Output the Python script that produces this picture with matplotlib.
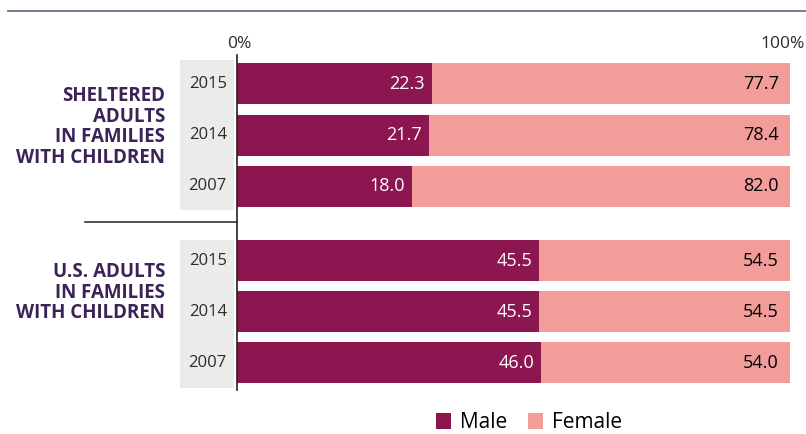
import matplotlib.pyplot as plt
from matplotlib.lines import Line2D
from matplotlib.patches import Rectangle
import matplotlib.transforms as mtransforms

# Data
groups = ["SHELTERED\nADULTS\nIN FAMILIES\nWITH CHILDREN",
          "U.S. ADULTS\nIN FAMILIES\nWITH CHILDREN"]
years = ["2015", "2014", "2007", "2015", "2014", "2007"]
male = [22.3, 21.7, 18.0, 45.5, 45.5, 46.0]
female = [77.7, 78.4, 82.0, 54.5, 54.5, 54.0]

MALE_C = "#8c1650"
FEMALE_C = "#f29d99"
LABEL_C = "#3b2257"
TEXT_C = "#2b2b2b"

plt.rcParams["font.family"] = ["Open Sans", "DejaVu Sans"]

# bar rows: two groups of three with a wider gap between them
ypos = [0, 1, 2, 3.45, 4.45, 5.45]
# the original axis starts left of zero (male bars drawn from the axis edge)
x_start = -20

fig = plt.figure(figsize=(8.06, 4.34), dpi=100)
ax = fig.add_axes([237 / 806, 1 - 390 / 434, 553 / 806, 335 / 434])

# grey panels behind the year labels
trans = mtransforms.blended_transform_factory(ax.transAxes, ax.transData)
for y0, y1 in [(-0.47, 2.46), (3.05, 5.94)]:
    ax.add_patch(Rectangle((-0.103, y0), 0.097, y1 - y0, transform=trans,
                           facecolor="#ebebeb", edgecolor="none",
                           clip_on=False, zorder=0))

male_w = [m - x_start for m in male]
ax.barh(ypos, male_w, left=x_start, height=0.8, color=MALE_C,
        label="Male", zorder=2)
ax.barh(ypos, female, left=male, height=0.8, color=FEMALE_C,
        label="Female", zorder=2)

# value labels
for y, m, f in zip(ypos, male, female):
    ax.annotate(f"{m:.1f}", (m, y), xytext=(-5, 0), textcoords="offset points",
                ha="right", va="center", color="white", fontsize=13)
    ax.annotate(f"{f:.1f}", (100, y), xytext=(-8, 0), textcoords="offset points",
                ha="right", va="center", color="black", fontsize=13)

# year labels
for y, yr in zip(ypos, years):
    ax.text(-0.053, y, yr, transform=trans, ha="center", va="center",
            fontsize=12, color=TEXT_C)

# group labels
for y, g in zip([0.84, 4.08], groups):
    ax.text(-0.13, y, g, transform=trans, ha="right", va="center",
            fontsize=13.5, fontweight="bold", color=LABEL_C, linespacing=1.03)

# separator between the groups
ax.plot([-0.275, 0], [2.70, 2.70], transform=trans, color="#333333",
        linewidth=1.2, clip_on=False)

# 0% / 100% scale labels
ax.annotate("0%", (0, 1), xycoords="axes fraction", xytext=(-7, 2),
            textcoords="offset points", ha="left", va="bottom",
            fontsize=12.5, color=TEXT_C)
ax.annotate("100%", (1, 1), xycoords="axes fraction", xytext=(11, 2),
            textcoords="offset points", ha="right", va="bottom",
            fontsize=12.5, color=TEXT_C)

ax.set_xlim(x_start, 100)
ax.set_ylim(5.98, -0.566)
ax.set_xticks([])
ax.set_yticks([])
for s in ["top", "right", "bottom"]:
    ax.spines[s].set_visible(False)
ax.spines["left"].set_linewidth(1.2)
ax.spines["left"].set_color("#222222")
ax.patch.set_alpha(0)

# rule at the top of the page
fig.add_artist(Line2D([8 / 806, 1], [1 - 11 / 434, 1 - 11 / 434],
                      color="#7a6a85", linewidth=1.3))

fig.legend(loc="center", bbox_to_anchor=(0.656, 0.026), ncol=2,
           frameon=False, fontsize=15, handlelength=0.75, handleheight=0.75,
           handletextpad=0.4, columnspacing=1.0)

plt.savefig("out.png", dpi=100)
